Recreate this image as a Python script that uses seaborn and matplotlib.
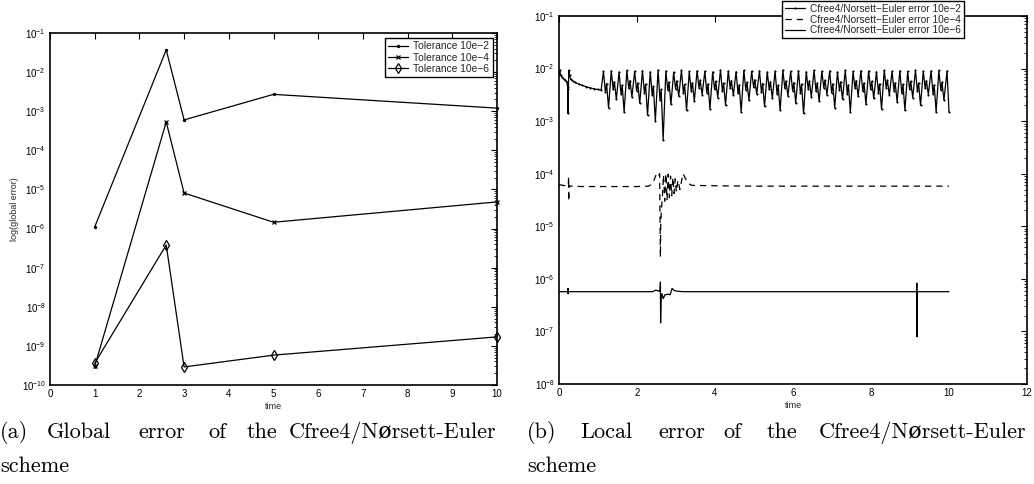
import numpy as np
import pandas as pd
import matplotlib
matplotlib.use("Agg")
import matplotlib.pyplot as plt
import seaborn as sns
from matplotlib.ticker import FixedLocator, NullFormatter, LogFormatterSciNotation

# ---------------- data: (a) global error ----------------
time_pts = [1, 2.6, 3, 5, 10]
tol_2 = [1.1e-6, 3.7e-2, 6.0e-4, 2.7e-3, 1.2e-3]
tol_4 = [3.0e-10, 5.3e-4, 8.1e-6, 1.45e-6, 4.8e-6]
tol_6 = [3.6e-10, 3.8e-7, 2.9e-10, 5.8e-10, 1.7e-9]
labels_a = ["Tolerance 10e\u22122", "Tolerance 10e\u22124", "Tolerance 10e\u22126"]
xticks_a = [0, 1, 2, 3, 4, 5, 6, 7, 8, 9, 10]
decades_a = [-10, -9, -8, -7, -6, -5, -4, -3, -2, -1]

# ---------------- data: (b) local error ----------------
# tolerance 10e-2: initial transient
e2_start_t = [0.0, 0.02, 0.04, 0.08, 0.12, 0.16, 0.2, 0.22, 0.23, 0.24, 0.25, 0.27,
              0.3, 0.35, 0.4, 0.5, 0.6, 0.7, 0.8, 0.9, 1.0, 1.08]
e2_start_v = [8.0e-3, 9.5e-3, 7.5e-3, 6.8e-3, 6.3e-3, 6.0e-3, 5.6e-3, 4.5e-3, 1.4e-3,
              4.0e-3, 9.2e-3, 7.5e-3, 6.2e-3, 5.8e-3, 5.5e-3, 5.1e-3, 4.8e-3, 4.5e-3,
              4.3e-3, 4.1e-3, 4.0e-3, 3.9e-3]
# tolerance 10e-2: oscillating part, one entry per oscillation
cycle_start = [1.1, 1.3, 1.5, 1.7, 1.9, 2.1, 2.3, 2.5, 2.7, 2.9, 3.1, 3.3, 3.5, 3.7, 3.9,
               4.1, 4.3, 4.5, 4.7, 4.9, 5.1, 5.3, 5.5, 5.7, 5.9, 6.1, 6.3, 6.5, 6.7, 6.9,
               7.1, 7.3, 7.5, 7.7, 7.9, 8.1, 8.3, 8.5, 8.7, 8.9, 9.1, 9.3, 9.5, 9.7]
osc_peak = [8.8, 9.0, 8.6, 9.2, 8.9, 9.1, 8.7, 9.3, 9.0, 8.5, 9.2, 8.8, 9.1, 8.9, 8.6,
            9.3, 9.0, 8.7, 9.2, 8.9, 9.1, 8.6, 9.0, 9.3, 8.8, 9.1, 8.7, 9.2, 8.9, 9.0,
            8.6, 9.3, 8.8, 9.1, 9.0, 8.7, 9.2, 8.9, 9.1, 8.8, 9.3, 8.9, 9.0, 9.2]
osc_mid_lo = [3.6, 4.0, 3.3, 4.2, 3.8, 3.5, 3.1, 2.5, 3.9, 4.1, 3.4, 3.8, 4.3, 3.5, 4.0,
              3.7, 4.2, 3.4, 3.9, 4.4, 3.6, 4.0, 3.3, 4.2, 3.8, 3.4, 4.1, 3.7, 4.3, 3.5,
              3.9, 3.3, 4.2, 3.7, 4.0, 3.5, 4.3, 3.8, 3.4, 4.0, 3.7, 4.2, 3.3, 3.9]
osc_mid_hi = [5.2, 5.6, 4.8, 5.9, 5.3, 5.0, 4.6, 4.0, 5.5, 5.8, 5.0, 5.4, 6.0, 5.1, 5.7,
              5.3, 5.9, 4.9, 5.5, 6.1, 5.2, 5.6, 4.8, 5.8, 5.4, 5.0, 5.8, 5.3, 6.0, 5.1,
              5.6, 4.9, 5.9, 5.3, 5.7, 5.1, 6.0, 5.4, 5.0, 5.7, 5.3, 5.9, 4.9, 5.5]
osc_trough = [1.8, 2.6, 1.5, 2.9, 2.2, 1.3, 1.0, 0.44, 2.1, 3.0, 1.6, 2.4, 3.2, 1.7, 2.8,
              2.0, 3.1, 1.5, 2.5, 3.3, 1.9, 2.7, 1.6, 3.0, 2.2, 1.4, 2.9, 2.4, 3.2, 1.8,
              2.6, 1.5, 3.0, 2.1, 2.7, 1.7, 3.1, 2.3, 1.6, 2.8, 2.0, 3.2, 1.5, 2.5]
e2_end_t = [9.95, 10.0]
e2_end_v = [9.0e-3, 1.5e-3]

# tolerance 10e-4
e4_t = [0.0, 0.1, 0.2, 0.24, 0.245, 0.25, 0.255, 0.26, 0.3, 0.6, 1.0, 1.5, 2.0, 2.3,
        2.4, 2.45, 2.5, 2.55, 2.58, 2.6, 2.61, 2.63, 2.65, 2.68, 2.71, 2.74, 2.77,
        2.8, 2.83, 2.86, 2.89, 2.92, 2.95, 2.98, 3.01, 3.05, 3.1, 3.18, 3.3, 3.4,
        4.0, 5.0, 6.0, 7.0, 8.0, 9.0, 10.0]
e4_v = [6.2e-5, 6.0e-5, 5.9e-5, 5.9e-5, 8.8e-5, 3.0e-5, 5.9e-5, 5.8e-5, 5.8e-5,
        5.7e-5, 5.7e-5, 5.7e-5, 5.7e-5, 5.8e-5, 6.5e-5, 8.0e-5, 1.0e-4, 9.0e-5,
        1.0e-4, 2.6e-6, 1.2e-5, 2.3e-5, 3.5e-5, 9.5e-5, 3.0e-5, 1.0e-4, 3.2e-5,
        9.8e-5, 3.5e-5, 9.0e-5, 3.8e-5, 8.5e-5, 4.2e-5, 8.0e-5, 4.5e-5, 7.5e-5,
        5.0e-5, 1.0e-4, 6.7e-5, 6.0e-5, 5.9e-5, 5.8e-5, 5.8e-5, 5.8e-5, 5.8e-5,
        5.8e-5, 5.8e-5]

# tolerance 10e-6
e6_t = [0.0, 0.2, 0.23, 0.232, 0.234, 0.24, 0.3, 1.0, 2.0, 2.4, 2.48, 2.55, 2.59,
        2.6, 2.605, 2.62, 2.64, 2.67, 2.72, 2.8, 2.85, 2.9, 2.95, 3.05, 3.2, 4.0,
        6.0, 8.0, 9.0, 9.17, 9.175, 9.18, 9.19, 9.5, 10.0]
e6_v = [5.7e-7, 5.7e-7, 5.7e-7, 6.6e-7, 5.2e-7, 5.7e-7, 5.7e-7, 5.7e-7, 5.7e-7,
        5.7e-7, 6.1e-7, 5.9e-7, 5.8e-7, 8.7e-7, 1.45e-7, 5.0e-7, 5.2e-7, 4.2e-7,
        5.0e-7, 5.1e-7, 5.0e-7, 6.6e-7, 6.0e-7, 5.8e-7, 5.7e-7, 5.7e-7, 5.7e-7,
        5.7e-7, 5.7e-7, 5.7e-7, 8.3e-7, 7.9e-8, 5.7e-7, 5.7e-7, 5.7e-7]
labels_b = ["Cfree4/Norsett\u2212Euler error 10e\u22122",
            "Cfree4/Norsett\u2212Euler error 10e\u22124",
            "Cfree4/Norsett\u2212Euler error 10e\u22126"]
xticks_b = [0, 2, 4, 6, 8, 10, 12]
decades_b = [-8, -7, -6, -5, -4, -3, -2, -1]

caption_a_words = ["(a)", "Global", "error", "of", "the", "Cfree4/N\u00f8rsett-Euler"]
caption_b_words = ["(b)", "Local", "error", "of", "the", "Cfree4/N\u00f8rsett-Euler"]
caption_2 = "scheme"

# assemble the 10e-2 local error series from the read values
osc_t, osc_v = [], []
for k, T in enumerate(cycle_start):
    osc_t += [T + 0.04, T + 0.09, T + 0.12, T + 0.17]
    osc_v += [osc_peak[k] * 1e-3, osc_mid_lo[k] * 1e-3, osc_mid_hi[k] * 1e-3,
              osc_trough[k] * 1e-3]
e2_t = e2_start_t + osc_t + e2_end_t
e2_v = e2_start_v + osc_v + e2_end_v

# ---------------- style ----------------
sns.set_theme(style="white")
plt.rcParams["font.family"] = ["Liberation Sans", "DejaVu Sans"]
plt.rcParams["axes.unicode_minus"] = True
plt.rcParams["axes.edgecolor"] = "black"
plt.rcParams["axes.linewidth"] = 1.2

W, H = 1034, 484
fig = plt.figure(figsize=(W / 100, H / 100), dpi=100)
fig.patch.set_facecolor("white")

def px_axes(x0, y0, x1, y1):
    return fig.add_axes([x0 / W, 1 - y1 / H, (x1 - x0) / W, (y1 - y0) / H])

ax1 = px_axes(50, 33, 497, 385)
ax2 = px_axes(559, 16, 1027, 384)

# ---------------- (a) ----------------
df_a = pd.DataFrame({"time": time_pts * 3,
                     "err": tol_2 + tol_4 + tol_6,
                     "series": [labels_a[0]] * 5 + [labels_a[1]] * 5 + [labels_a[2]] * 5})
markers_a = {labels_a[0]: ".", labels_a[1]: "x", labels_a[2]: "d"}
sizes_a = {labels_a[0]: 3, labels_a[1]: 3.5, labels_a[2]: 5}
for lab in labels_a:
    sub = df_a[df_a.series == lab]
    sns.lineplot(data=sub, x="time", y="err", ax=ax1, color="black", lw=0.9,
                 marker=markers_a[lab], markersize=sizes_a[lab],
                 markerfacecolor="none" if lab == labels_a[2] else "black",
                 markeredgecolor="black", markeredgewidth=0.9,
                 label=lab, sort=False, estimator=None, clip_on=False)
ax1.set_yscale("log")
ax1.set_xlim(xticks_a[0], xticks_a[-1])
ax1.set_ylim(10.0 ** decades_a[0], 10.0 ** decades_a[-1])
ax1.xaxis.set_major_locator(FixedLocator(xticks_a))
ax1.set_xlabel("time", fontsize=6.5, labelpad=2)
ax1.set_ylabel("log(global error)", fontsize=6.5, labelpad=2)
leg1 = ax1.legend(loc="upper right", bbox_to_anchor=(0.99, 0.985), fontsize=7.4,
                  frameon=True, fancybox=False, edgecolor="black", framealpha=1,
                  handlelength=2.0, borderpad=0.3, labelspacing=0.12,
                  handletextpad=0.5, borderaxespad=0)
leg1.get_frame().set_linewidth(1.0)

# ---------------- (b) ----------------
df_b = pd.DataFrame({"time": e2_t + e4_t + e6_t,
                     "err": e2_v + e4_v + e6_v,
                     "series": [labels_b[0]] * len(e2_t) + [labels_b[1]] * len(e4_t)
                     + [labels_b[2]] * len(e6_t)})
sns.lineplot(data=df_b[df_b.series == labels_b[0]], x="time", y="err", ax=ax2,
             color="black", lw=0.9, marker=".", markersize=3, markeredgewidth=0,
             label=labels_b[0], sort=False, estimator=None)
sns.lineplot(data=df_b[df_b.series == labels_b[1]], x="time", y="err", ax=ax2,
             color="black", lw=0.9, label=labels_b[1], sort=False, estimator=None)
ax2.lines[-1].set_dashes([5, 4])
sns.lineplot(data=df_b[df_b.series == labels_b[2]], x="time", y="err", ax=ax2,
             color="black", lw=0.9, label=labels_b[2], sort=False, estimator=None)
ax2.set_yscale("log")
ax2.set_xlim(xticks_b[0], xticks_b[-1])
ax2.set_ylim(10.0 ** decades_b[0], 10.0 ** decades_b[-1])
ax2.xaxis.set_major_locator(FixedLocator(xticks_b))
ax2.set_xlabel("time", fontsize=6.5, labelpad=2)
ax2.set_ylabel("")
leg2 = ax2.legend(loc="upper center", bbox_to_anchor=(0.671, 1.04), fontsize=7.3,
                  frameon=True, fancybox=False, edgecolor="black", framealpha=1,
                  handlelength=2.0, borderpad=0.25, labelspacing=0.08,
                  handletextpad=0.5, borderaxespad=0)
leg2.get_frame().set_linewidth(1.0)
leg2.set_zorder(10)

for ax, decs in ((ax1, decades_a), (ax2, decades_b)):
    majors = [10.0 ** d for d in decs]
    minors = [m * 10.0 ** d for d in decs[:-1] for m in range(2, 10)]
    ax.yaxis.set_major_locator(FixedLocator(majors))
    ax.yaxis.set_major_formatter(LogFormatterSciNotation())
    ax.yaxis.set_minor_locator(FixedLocator(minors))
    ax.yaxis.set_minor_formatter(NullFormatter())
    ax.tick_params(which="both", direction="in", top=True, right=True,
                   labelsize=7, colors="black", pad=3)
    ax.tick_params(which="major", length=4, width=0.8)
    ax.tick_params(which="minor", length=2, width=0.6)
    ax.tick_params(axis="x", which="minor", bottom=False, top=False)
    ax.set_facecolor("white")
    for s in ax.spines.values():
        s.set_visible(True)
        s.set_color("black")
        s.set_linewidth(1.2)

# ---------------- captions (justified first line) ----------------
cap = dict(family=["cmr10", "DejaVu Serif"], fontsize=16, color="black",
           ha="left", va="baseline")
x_a = [0, 47, 138, 208, 247, 289]
x_b = [527, 580, 658, 723, 767, 819]
for word, x in list(zip(caption_a_words, x_a)) + list(zip(caption_b_words, x_b)):
    fig.text(x / W, 1 - 438 / H, word, **cap)
fig.text(0 / W, 1 - 472 / H, caption_2, **cap)
fig.text(527 / W, 1 - 472 / H, caption_2, **cap)

fig.savefig("out.png", dpi=100, facecolor="white")
